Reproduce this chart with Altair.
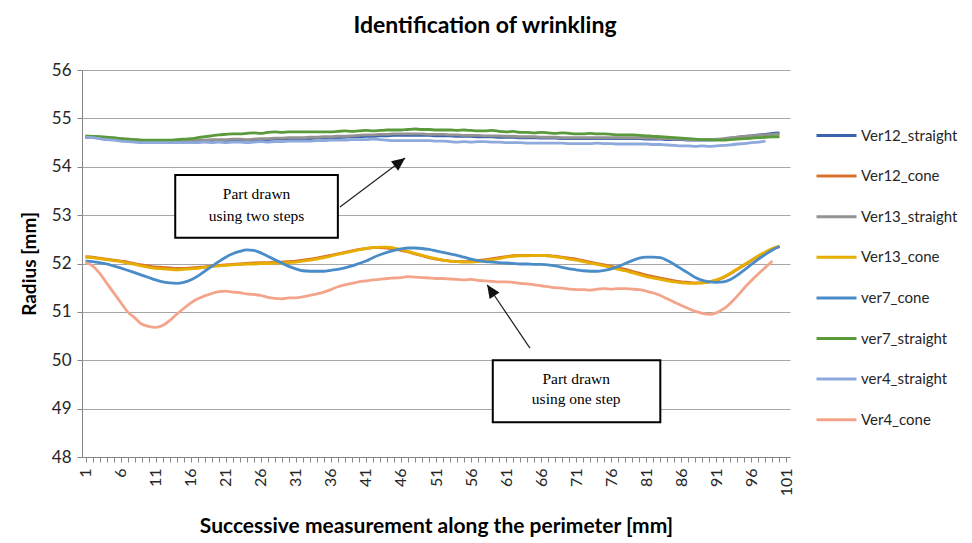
import altair as alt
import pandas as pd

series_names = ["Ver12_straight", "Ver12_cone", "Ver13_straight", "Ver13_cone",
                "ver7_cone", "ver7_straight", "ver4_straight", "Ver4_cone"]
series_colors = ["#3A63AE", "#D9722E", "#939393", "#E6AE00",
                 "#4A8CC8", "#5A9A3A", "#8EA9DB", "#F4A48A"]

ver12_straight = [54.61,54.61,54.6,54.59,54.58,54.57,54.56,54.55,54.54,54.53,54.53,54.53,54.53,54.53,54.53,54.53,54.53,54.53,54.54,54.54,
                  54.54,54.54,54.55,54.55,54.55,54.56,54.56,54.57,54.57,54.57,54.58,54.58,54.58,54.59,54.59,54.6,54.6,54.61,54.62,54.62,
                  54.63,54.63,54.64,54.64,54.65,54.65,54.65,54.65,54.65,54.65,54.64,54.64,54.64,54.63,54.63,54.63,54.62,54.62,54.62,54.61,
                  54.61,54.61,54.6,54.6,54.6,54.59,54.59,54.59,54.58,54.58,54.58,54.58,54.58,54.58,54.58,54.58,54.58,54.58,54.58,54.58,
                  54.57,54.57,54.57,54.56,54.56,54.56,54.55,54.55,54.55,54.55,54.56,54.57,54.59,54.61,54.63,54.64,54.66,54.67,54.69,54.70]
ver12_cone = [52.14,52.13,52.11,52.09,52.07,52.05,52.03,52.0,51.97,51.95,51.93,51.92,51.91,51.9,51.9,51.91,51.92,51.93,51.95,51.96,
              51.97,51.98,51.99,52.0,52.01,52.02,52.02,52.03,52.03,52.04,52.05,52.07,52.09,52.11,52.14,52.17,52.2,52.23,52.26,52.29,
              52.31,52.33,52.33,52.32,52.3,52.27,52.24,52.2,52.16,52.12,52.09,52.07,52.05,52.04,52.04,52.05,52.06,52.08,52.1,52.12,
              52.14,52.16,52.17,52.17,52.17,52.17,52.16,52.15,52.13,52.11,52.09,52.06,52.03,52.0,51.97,51.94,51.91,51.88,51.84,51.8,
              51.76,51.73,51.7,51.67,51.64,51.62,51.61,51.6,51.6,51.62,51.65,51.71,51.79,51.88,51.97,52.06,52.15,52.23,52.3,52.35]
ver13_straight = [54.62,54.62,54.61,54.6,54.59,54.58,54.57,54.56,54.55,54.54,54.54,54.54,54.54,54.54,54.54,54.55,54.55,54.55,54.56,54.56,
                  54.56,54.57,54.57,54.56,54.57,54.58,54.58,54.59,54.59,54.6,54.6,54.6,54.61,54.61,54.62,54.62,54.63,54.63,54.64,54.65,
                  54.66,54.66,54.67,54.67,54.68,54.68,54.68,54.68,54.68,54.67,54.67,54.67,54.66,54.66,54.65,54.65,54.65,54.64,54.64,54.64,
                  54.63,54.63,54.62,54.62,54.62,54.61,54.61,54.61,54.6,54.6,54.6,54.6,54.6,54.6,54.6,54.6,54.6,54.6,54.6,54.6,
                  54.59,54.59,54.58,54.58,54.57,54.57,54.56,54.56,54.56,54.56,54.57,54.58,54.6,54.61,54.63,54.64,54.65,54.66,54.67,54.68]
ver13_cone = [52.13,52.12,52.10,52.08,52.06,52.04,52.01,51.98,51.95,51.92,51.9,51.89,51.88,51.87,51.88,51.89,51.9,51.92,51.94,51.95,
              51.96,51.97,51.98,51.99,51.99,52.0,52.0,52.01,52.01,52.02,52.03,52.05,52.07,52.09,52.12,52.15,52.19,52.22,52.25,52.28,
              52.31,52.33,52.34,52.34,52.32,52.29,52.25,52.21,52.17,52.13,52.10,52.07,52.05,52.04,52.03,52.03,52.04,52.06,52.08,52.10,
              52.13,52.15,52.16,52.16,52.17,52.17,52.16,52.14,52.12,52.09,52.07,52.04,52.01,51.98,51.95,51.92,51.88,51.85,51.81,51.77,
              51.73,51.7,51.67,51.64,51.62,51.6,51.59,51.59,51.6,51.62,51.66,51.72,51.8,51.89,51.98,52.07,52.16,52.24,52.31,52.36]
ver7_cone = [52.05,52.04,52.02,51.99,51.95,51.91,51.86,51.81,51.76,51.71,51.66,51.62,51.60,51.59,51.61,51.66,51.74,51.84,51.94,52.04,
             52.13,52.20,52.25,52.28,52.27,52.22,52.15,52.08,52.01,51.94,51.89,51.85,51.84,51.84,51.84,51.86,51.88,51.91,51.95,52.0,
             52.05,52.12,52.18,52.23,52.27,52.30,52.32,52.32,52.31,52.29,52.26,52.23,52.20,52.17,52.13,52.09,52.06,52.04,52.03,52.02,
             52.01,52.0,51.99,51.99,51.98,51.98,51.97,51.95,51.92,51.89,51.87,51.85,51.84,51.84,51.86,51.89,51.94,52.0,52.06,52.11,
             52.13,52.13,52.12,52.06,51.98,51.89,51.80,51.71,51.65,51.62,51.61,51.62,51.67,51.76,51.87,51.98,52.09,52.19,52.28,52.35]
ver7_straight = [54.64,54.63,54.62,54.61,54.6,54.58,54.57,54.56,54.55,54.55,54.55,54.55,54.55,54.56,54.57,54.58,54.6,54.62,54.64,54.66,
                 54.67,54.68,54.68,54.69,54.70,54.69,54.71,54.72,54.71,54.72,54.72,54.72,54.72,54.72,54.72,54.72,54.73,54.74,54.73,54.74,
                 54.75,54.74,54.75,54.76,54.76,54.76,54.77,54.78,54.77,54.77,54.76,54.76,54.76,54.75,54.76,54.75,54.74,54.74,54.75,54.73,
                 54.72,54.73,54.71,54.71,54.70,54.71,54.70,54.69,54.70,54.69,54.68,54.68,54.69,54.68,54.68,54.67,54.66,54.66,54.66,54.65,
                 54.64,54.63,54.62,54.61,54.6,54.59,54.58,54.57,54.56,54.56,54.55,54.55,54.56,54.57,54.58,54.59,54.6,54.61,54.62,54.62]
ver4_straight = [54.61,54.6,54.58,54.56,54.55,54.53,54.52,54.51,54.5,54.5,54.5,54.5,54.5,54.5,54.5,54.5,54.5,54.51,54.5,54.51,
                 54.5,54.51,54.51,54.5,54.51,54.52,54.51,54.52,54.52,54.53,54.53,54.53,54.53,54.54,54.54,54.55,54.55,54.55,54.56,54.56,
                 54.56,54.57,54.56,54.55,54.54,54.54,54.54,54.54,54.54,54.54,54.53,54.53,54.52,54.51,54.52,54.51,54.52,54.52,54.51,54.51,
                 54.5,54.5,54.5,54.49,54.49,54.49,54.49,54.49,54.49,54.48,54.48,54.48,54.48,54.49,54.48,54.48,54.47,54.47,54.47,54.47,
                 54.47,54.46,54.46,54.45,54.44,54.43,54.43,54.42,54.43,54.42,54.43,54.44,54.45,54.47,54.48,54.5,54.51,54.53]
ver4_cone = [52.02,51.95,51.8,51.6,51.4,51.2,51.0,50.88,50.75,50.7,50.68,50.72,50.82,50.95,51.07,51.18,51.27,51.33,51.38,51.42,
             51.43,51.41,51.40,51.37,51.36,51.34,51.30,51.28,51.27,51.29,51.29,51.31,51.34,51.37,51.41,51.46,51.52,51.56,51.59,51.62,
             51.64,51.66,51.67,51.69,51.70,51.71,51.73,51.72,51.71,51.70,51.69,51.69,51.68,51.67,51.66,51.67,51.65,51.64,51.63,51.62,
             51.62,51.61,51.59,51.58,51.56,51.54,51.52,51.50,51.49,51.47,51.46,51.46,51.45,51.47,51.48,51.47,51.48,51.48,51.47,51.46,
             51.43,51.39,51.34,51.27,51.20,51.13,51.07,51.01,50.97,50.95,50.98,51.06,51.18,51.33,51.5,51.65,51.79,51.92,52.05]

series_values = [ver12_straight, ver12_cone, ver13_straight, ver13_cone,
                 ver7_cone, ver7_straight, ver4_straight, ver4_cone]

x_tick_labels = list(range(1, 102, 5))
y_ticks = list(range(48, 57))

# annotations (data coordinates)
box_names = ["two", "one"]
box_x1 = [13.8, 59.1]
box_x2 = [37.0, 83.0]
box_y1 = [53.83, 50.0]
box_y2 = [52.53, 48.72]
note_x = [25.4, 25.4, 71.0, 71.0]
note_y = [53.43, 52.98, 49.61, 49.2]
note_text = ["Part drawn", "using two steps", "Part drawn", "using one step"]
arrow_x1 = [37.3, 64.4]
arrow_y1 = [53.17, 50.25]
arrow_x2 = [46.6, 58.3]
arrow_y2 = [54.18, 51.56]
arrow_angle = [53, 326]

rows = []
for name, vals in zip(series_names, series_values):
    for i, v in enumerate(vals):
        rows.append({"series": name, "x": i + 1, "radius": v})
df = pd.DataFrame(rows)

FONT = "Lato"
xscale = alt.Scale(domain=[0.5, 101.5], nice=False, zero=False)
yscale = alt.Scale(domain=[48, 56], nice=False, zero=False)
cscale = alt.Scale(domain=series_names, range=series_colors)

xaxis = alt.Axis(values=list(range(1, 102)),
                 labelExpr="(datum.value - 1) % 5 == 0 ? datum.label : ''",
                 labelAngle=-90, labelAlign="right", labelBaseline="middle",
                 labelFontSize=16, labelFont=FONT, labelColor="#262626",
                 labelOverlap=False, labelFlush=False, labelPadding=6,
                 tickSize=5, tickColor="#868686", domainColor="#868686",
                 grid=False, title="Successive measurement along the perimeter [mm]",
                 titleFont=FONT, titleFontSize=21, titleFontWeight="bold",
                 titleColor="#000000", titlePadding=20)
yaxis = alt.Axis(values=y_ticks, labelFontSize=17, labelFont=FONT, labelColor="#262626",
                 tickSize=5, tickColor="#868686", domainColor="#868686",
                 gridColor="#A6A6A6", gridWidth=1, labelPadding=6,
                 title="Radius [mm]", titleFont=FONT, titleFontSize=19,
                 titleFontWeight="bold", titleColor="#000000", titlePadding=12)
legend = alt.Legend(title=None, orient="none", legendX=733, legendY=44,
                    symbolType="stroke", symbolSize=1600,
                    symbolStrokeWidth=3, labelFont=FONT,
                    labelFontSize=15, labelColor="#262626",
                    rowPadding=10.6, labelOffset=3, labelLimit=200, padding=0)

layers = []
for k, name in enumerate(series_names):
    layers.append(
        alt.Chart(df).transform_filter(alt.datum.series == name)
        .mark_line(strokeWidth=2.8, interpolate="monotone").encode(
            x=alt.X("x:Q", scale=xscale, axis=xaxis),
            y=alt.Y("radius:Q", scale=yscale, axis=yaxis),
            color=alt.Color("series:N", scale=cscale, legend=legend),
        )
    )

box_df = pd.DataFrame({"name": box_names, "x1": box_x1, "x2": box_x2, "y1": box_y1, "y2": box_y2})
boxes = alt.Chart(box_df).mark_rect(fill="white", stroke="black", strokeWidth=2).encode(
    x=alt.X("x1:Q", scale=xscale, axis=xaxis), x2="x2:Q",
    y=alt.Y("y1:Q", scale=yscale, axis=yaxis), y2="y2:Q")

note_df = pd.DataFrame({"x": note_x, "y": note_y, "t": note_text})
notes = alt.Chart(note_df).mark_text(font="Liberation Serif", fontSize=15.5, color="black").encode(
    x=alt.X("x:Q", scale=xscale, axis=xaxis), y=alt.Y("y:Q", scale=yscale, axis=yaxis), text="t:N")

arrow_df = pd.DataFrame({"x1": arrow_x1, "y1": arrow_y1, "x2": arrow_x2, "y2": arrow_y2, "a": arrow_angle})
arrow_lines = alt.Chart(arrow_df).mark_rule(color="#222222", strokeWidth=1.2).encode(
    x=alt.X("x1:Q", scale=xscale, axis=xaxis), y=alt.Y("y1:Q", scale=yscale, axis=yaxis),
    x2="x2:Q", y2="y2:Q")
arrow_heads = alt.Chart(arrow_df).mark_point(
    shape="M0,0 L-0.45,1 L0.45,1 Z", filled=True, color="#111111", size=700, opacity=1
).encode(x=alt.X("x2:Q", scale=xscale, axis=xaxis), y=alt.Y("y2:Q", scale=yscale, axis=yaxis),
         angle=alt.Angle("a:Q", scale=None))

chart = alt.layer(*layers, arrow_lines, arrow_heads, boxes, notes).properties(
    width=708, height=387,
    autosize=alt.AutoSizeParams(type="none"),
    padding={"left": 74, "top": 62, "right": 170, "bottom": 82},
    title=alt.Title("Identification of wrinkling", font=FONT, fontSize=23, fontWeight="bold",
                    color="#000000", anchor="middle", dx=49, offset=23),
).configure_view(stroke=None)

chart.save("out.html", embed_options={"renderer": "svg", "actions": False})
